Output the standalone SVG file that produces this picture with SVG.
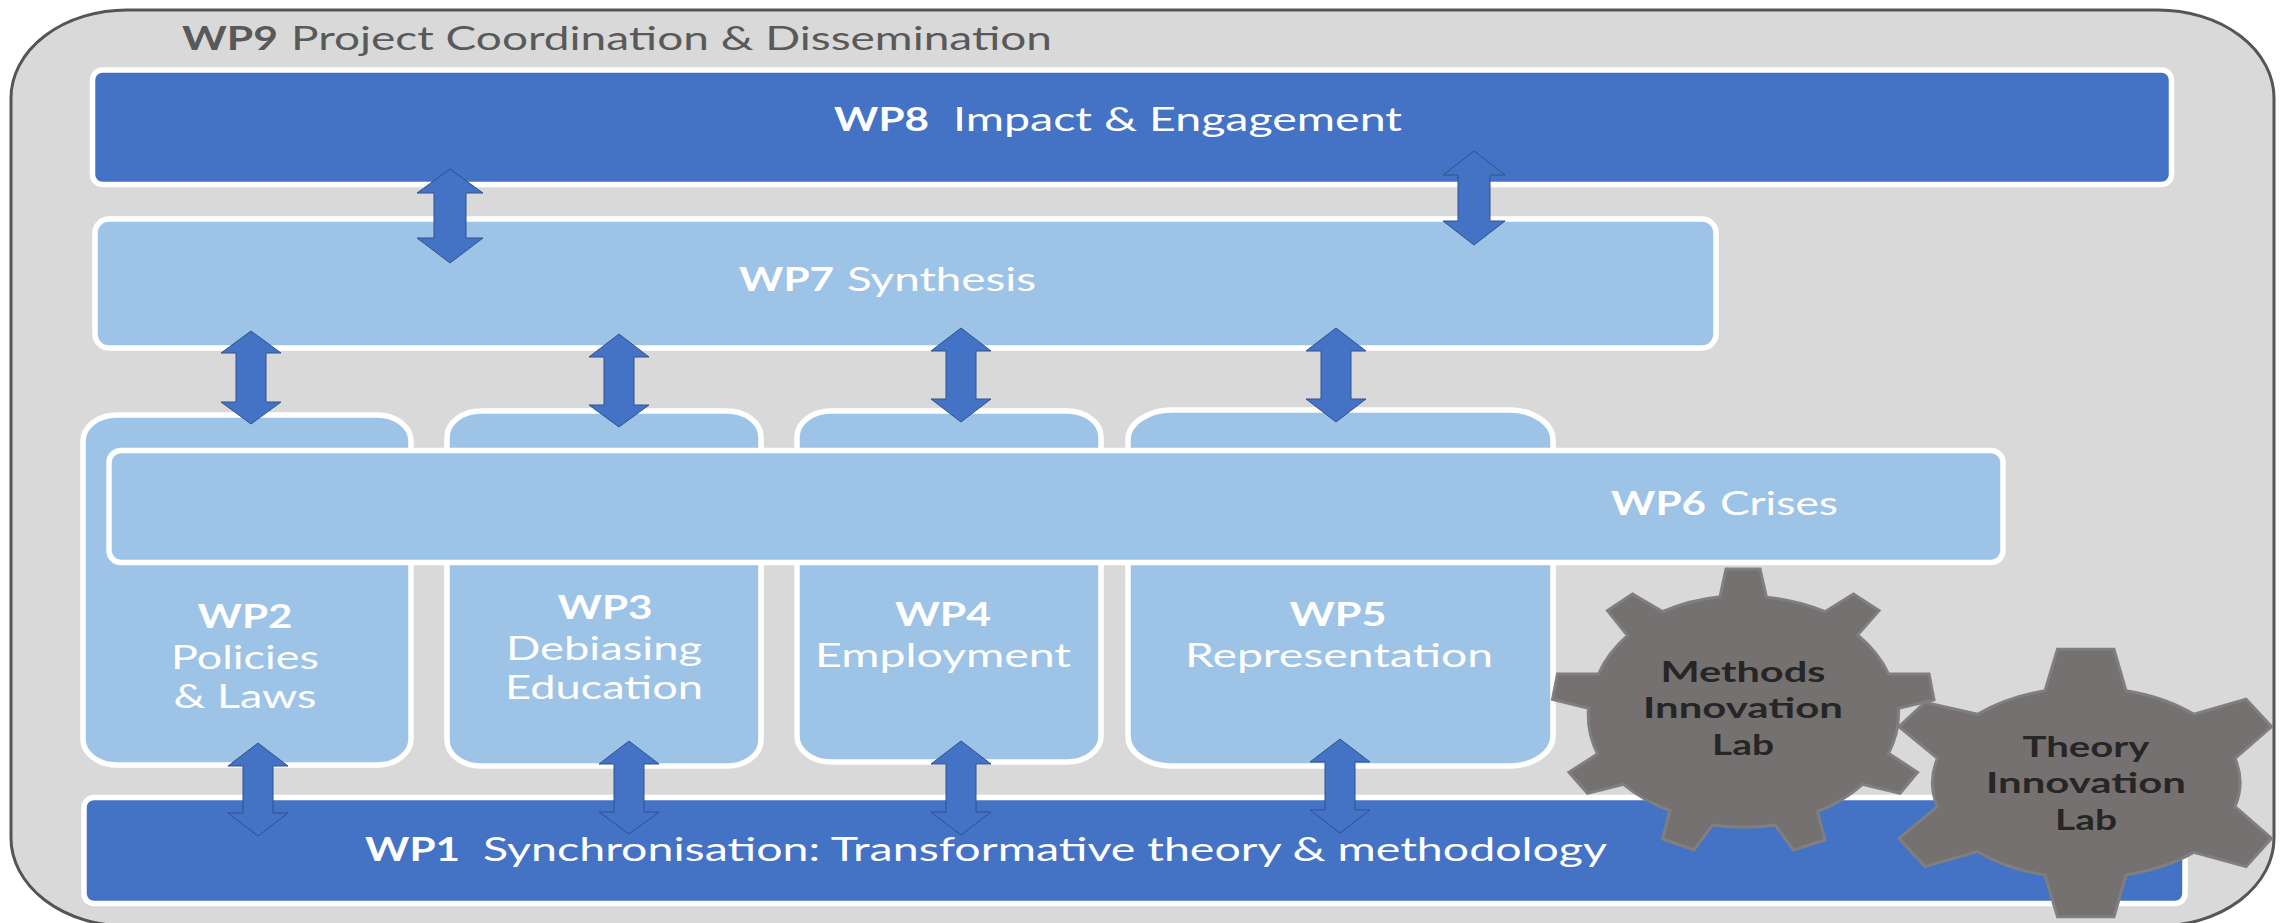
<svg xmlns="http://www.w3.org/2000/svg" width="2282" height="923" viewBox="0 0 2282 923">
<style>
text{font-family:"Lato","Liberation Sans",sans-serif;white-space:pre}
.t{fill:#fff;font-size:33px}
.c{text-anchor:middle}
.b{font-weight:700}
.dark{fill:#4472c4;stroke:#fff;stroke-width:5.5}
.light{fill:#9dc3e6;stroke:#fff;stroke-width:5.5}
.arrow{fill:#4472c4;stroke:#2f528f;stroke-width:1}
.gear{fill:#767171;stroke:#7f7f7f;stroke-width:3}
.g{fill:#262626;font-size:29px;font-weight:700;text-anchor:middle}
</style>
<rect width="2282" height="923" fill="#fff"/>
<g id="wp9">
<rect x="11" y="10" width="2263" height="916" rx="116" ry="88" fill="#d9d9d9" stroke="#555" stroke-width="3"/>
<text y="50" font-size="32" fill="#595959"><tspan class="b" x="182" textLength="96" lengthAdjust="spacingAndGlyphs">WP9</tspan> <tspan x="291" textLength="761" lengthAdjust="spacingAndGlyphs">Project Coordination &amp; Dissemination</tspan></text>
</g>
<g id="wp8">
<rect class="dark" x="92.500" y="70" width="2079" height="114.500" rx="10"/>
<text class="t" y="131"><tspan class="b" x="834" textLength="95" lengthAdjust="spacingAndGlyphs">WP8</tspan>  <tspan x="953" textLength="449" lengthAdjust="spacingAndGlyphs">Impact &amp; Engagement</tspan></text>
</g>
<g id="wp7">
<rect class="light" x="95" y="219" width="1621" height="129" rx="14"/>
<text class="t" y="291"><tspan class="b" x="739" textLength="95" lengthAdjust="spacingAndGlyphs">WP7</tspan> <tspan x="847" textLength="189" lengthAdjust="spacingAndGlyphs">Synthesis</tspan></text>
</g>
<g id="wp2">
<rect class="light" x="83" y="415" width="328" height="350" rx="34" ry="26"/>
<text class="t b c" x="245" y="628" textLength="95" lengthAdjust="spacingAndGlyphs">WP2</text>
<text class="t c" x="245" y="669" textLength="148" lengthAdjust="spacingAndGlyphs">Policies</text>
<text class="t c" x="245" y="708" textLength="143" lengthAdjust="spacingAndGlyphs">&amp; Laws</text>
</g>
<g id="wp3">
<rect class="light" x="447" y="411" width="314" height="355" rx="34" ry="26"/>
<text class="t b c" x="605" y="619" textLength="95" lengthAdjust="spacingAndGlyphs">WP3</text>
<text class="t c" x="604" y="660" textLength="196" lengthAdjust="spacingAndGlyphs">Debiasing</text>
<text class="t c" x="604" y="699" textLength="198" lengthAdjust="spacingAndGlyphs">Education</text>
</g>
<g id="wp4">
<rect class="light" x="797" y="411" width="304" height="351" rx="34" ry="26"/>
<text class="t b c" x="943" y="626" textLength="96" lengthAdjust="spacingAndGlyphs">WP4</text>
<text class="t c" x="943" y="667" textLength="256" lengthAdjust="spacingAndGlyphs">Employment</text>
</g>
<g id="wp5">
<rect class="light" x="1128" y="410" width="425" height="356" rx="44" ry="30"/>
<text class="t b c" x="1338" y="626" textLength="97" lengthAdjust="spacingAndGlyphs">WP5</text>
<text class="t c" x="1339" y="667" textLength="308" lengthAdjust="spacingAndGlyphs">Representation</text>
</g>
<g id="wp6">
<rect class="light" x="109" y="450.500" width="1894" height="112" rx="12"/>
<text class="t" y="515"><tspan class="b" x="1611" textLength="95" lengthAdjust="spacingAndGlyphs">WP6</tspan> <tspan x="1720" textLength="118" lengthAdjust="spacingAndGlyphs">Crises</tspan></text>
</g>
<g id="wp1">
<rect class="dark" x="84" y="797.500" width="2101" height="106" rx="10"/>
<text class="t" y="861"><tspan class="b" x="365" textLength="95" lengthAdjust="spacingAndGlyphs">WP1</tspan>  <tspan x="483" textLength="1124" lengthAdjust="spacingAndGlyphs">Synchronisation: Transformative theory &amp; methodology</tspan></text>
</g>
<g id="connectors">
<polygon class="arrow" points="450,169 483,193 466,193 466,238 483,238 450,263 417,238 434,238 434,193 417,193"/>
<polygon class="arrow" points="1474,151 1505,175 1490,175 1490,221 1505,221 1474,245 1443,221 1458,221 1458,175 1443,175"/>
<polygon class="arrow" points="251,331 281,353 266,353 266,402 281,402 251,424 221,402 236,402 236,353 221,353"/>
<polygon class="arrow" points="619,334 649,357 634,357 634,405 649,405 619,427 589,405 604,405 604,357 589,357"/>
<polygon class="arrow" points="961,328 991,351 976,351 976,399 991,399 961,422 931,399 946,399 946,351 931,351"/>
<polygon class="arrow" points="1336,328 1366,351 1351,351 1351,399 1366,399 1336,422 1306,399 1321,399 1321,351 1306,351"/>
<polygon class="arrow" points="258,743 288,766 273,766 273,813 288,813 258,836 228,813 243,813 243,766 228,766"/>
<polygon class="arrow" points="629,741 659,764 644,764 644,812 659,812 629,834 599,812 614,812 614,764 599,764"/>
<polygon class="arrow" points="961,741 991,764 976,764 976,812 991,812 961,835 931,812 946,812 946,764 931,764"/>
<polygon class="arrow" points="1340,739 1370,762 1355,762 1355,810 1370,810 1340,833 1310,810 1325,810 1325,762 1310,762"/>
</g>
<g id="methods-lab">
<path class="gear" vector-effect="non-scaling-stroke" transform="translate(1500 540) scale(.5 .3333)" d="M440 170L452 87L520 87L533 172A310 342 0 0 1 650 215L707 162L758 212L715 285A310 342 0 0 1 777 402L858 402L868 480L797 505A310 342 0 0 1 777 640L835 697L800 760L725 733A310 342 0 0 1 635 815L650 900L587 930L550 855A310 342 0 0 1 425 855L388 930L325 897L340 812A310 342 0 0 1 247 733L175 760L138 697L195 642A310 342 0 0 1 177 505L105 478L115 402L197 402A310 342 0 0 1 255 287L215 212L265 162L325 215A310 342 0 0 1 440 170Z"/>
<text class="g" x="1743" y="682" textLength="165" lengthAdjust="spacingAndGlyphs">Methods</text>
<text class="g" x="1743" y="718" textLength="200" lengthAdjust="spacingAndGlyphs">Innovation</text>
<text class="g" x="1743" y="755" textLength="62" lengthAdjust="spacingAndGlyphs">Lab</text>
</g>
<g id="theory-lab">
<path class="gear" vector-effect="non-scaling-stroke" transform="translate(1500 540) scale(.5 .3333)" d="M1090 452L1115 328L1228 328L1252 452A308 285 0 0 1 1388 523L1492 478L1543 560L1470 655A308 285 0 0 1 1470 800L1543 895L1492 980L1388 937A308 285 0 0 1 1252 1005L1228 1130L1115 1130L1090 1005A308 285 0 0 1 955 935L850 980L798 895L875 800A308 285 0 0 1 875 655L798 560L850 487L955 523A308 285 0 0 1 1090 452Z"/>
<text class="g" x="2086" y="757" textLength="127" lengthAdjust="spacingAndGlyphs">Theory</text>
<text class="g" x="2086" y="793" textLength="200" lengthAdjust="spacingAndGlyphs">Innovation</text>
<text class="g" x="2086" y="830" textLength="62" lengthAdjust="spacingAndGlyphs">Lab</text>
</g>
</svg>
